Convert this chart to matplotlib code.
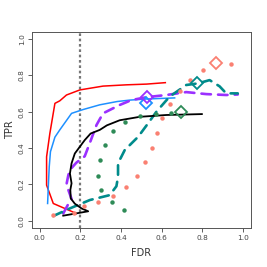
import matplotlib
matplotlib.use("Agg")
import matplotlib.pyplot as plt

# FDR / TPR curves
red_fdr = [0.18, 0.066, 0.033, 0.033, 0.049, 0.074, 0.098, 0.131, 0.197, 0.311, 0.426, 0.525, 0.618]
red_tpr = [0.040, 0.095, 0.196, 0.352, 0.480, 0.646, 0.660, 0.692, 0.720, 0.741, 0.748, 0.752, 0.760]

blue_fdr = [0.038, 0.042, 0.046, 0.052, 0.074, 0.098, 0.156, 0.213, 0.295, 0.380, 0.443, 0.525, 0.664]
blue_tpr = [0.095, 0.200, 0.297, 0.380, 0.460, 0.500, 0.591, 0.612, 0.638, 0.656, 0.664, 0.670, 0.676]

purple_fdr = [0.115, 0.139, 0.156, 0.140, 0.131, 0.140, 0.148, 0.180, 0.221, 0.250, 0.279, 0.311, 0.393, 0.451, 0.525, 0.623, 0.721, 0.820, 0.918, 0.975]
purple_tpr = [0.040, 0.090, 0.120, 0.170, 0.200, 0.250, 0.280, 0.320, 0.355, 0.440, 0.527, 0.591, 0.637, 0.664, 0.680, 0.692, 0.708, 0.697, 0.692, 0.695]

teal_fdr = [0.066, 0.148, 0.246, 0.344, 0.377, 0.385, 0.385, 0.418, 0.484, 0.533, 0.574, 0.639, 0.721, 0.779, 0.836, 0.885, 0.918, 0.975]
teal_tpr = [0.026, 0.068, 0.114, 0.141, 0.190, 0.242, 0.316, 0.389, 0.462, 0.536, 0.600, 0.683, 0.747, 0.756, 0.774, 0.740, 0.701, 0.701]

black_fdr = [0.115, 0.238, 0.205, 0.172, 0.152, 0.150, 0.156, 0.148, 0.156, 0.172, 0.221, 0.250, 0.295, 0.330, 0.393, 0.492, 0.623, 0.798]
black_tpr = [0.028, 0.052, 0.068, 0.094, 0.123, 0.170, 0.206, 0.260, 0.316, 0.370, 0.444, 0.480, 0.500, 0.525, 0.553, 0.572, 0.582, 0.587]

green_fdr = [0.415, 0.353, 0.300, 0.288, 0.298, 0.321, 0.361, 0.420, 0.495, 0.570, 0.648]
green_tpr = [0.059, 0.105, 0.167, 0.248, 0.334, 0.417, 0.492, 0.544, 0.574, 0.589, 0.594]

salmon_fdr = [0.066, 0.169, 0.218, 0.287, 0.361, 0.426, 0.480, 0.520, 0.554, 0.579, 0.603, 0.643, 0.689, 0.741, 0.803, 0.944]
salmon_tpr = [0.031, 0.042, 0.081, 0.105, 0.136, 0.183, 0.246, 0.321, 0.400, 0.483, 0.563, 0.640, 0.716, 0.774, 0.829, 0.862]

# open diamonds (fdr, tpr)
diamonds = {
    "dodgerblue": (0.521, 0.650),
    "#9b30ff": (0.528, 0.679),
    "#2e8b57": (0.697, 0.600),
    "#008b8b": (0.774, 0.756),
    "#fa8072": (0.866, 0.866),
}

ticks = [0.0, 0.2, 0.4, 0.6, 0.8, 1.0]
tick_labels = ["0.0", "0.2", "0.4", "0.6", "0.8", "1.0"]

fig = plt.figure(figsize=(2.67, 2.67), dpi=100)
ax = fig.add_axes([0.119, 0.146, 0.821, 0.735])

ax.axvline(0.2, color="#777777", lw=1.6, ls=(0, (1.2, 1.2)), zorder=1)

ax.plot(red_fdr, red_tpr, color="red", lw=1.1)
ax.plot(blue_fdr, blue_tpr, color="dodgerblue", lw=1.1)
ax.plot(purple_fdr, purple_tpr, color="#9b30ff", lw=1.9, ls=(0, (3.6, 2.7)), dash_capstyle="round")
ax.plot(teal_fdr, teal_tpr, color="#008b8b", lw=1.9, ls=(0, (3.6, 2.7)), dash_capstyle="round")
ax.plot(black_fdr, black_tpr, color="black", lw=1.3)
ax.plot(green_fdr, green_tpr, "o", color="#2e8b57", ms=3.2, mew=0)
ax.plot(salmon_fdr, salmon_tpr, "o", color="#fa8072", ms=3.2, mew=0)

for col, (x, y) in diamonds.items():
    ax.plot([x], [y], "D", mfc="none", mec=col, ms=6, mew=1.3)

ax.set_xlim(-0.04, 1.04)
ax.set_ylim(-0.04, 1.04)
ax.set_xticks(ticks)
ax.set_xticklabels(tick_labels)
ax.set_yticks(ticks)
ax.set_yticklabels(tick_labels, rotation=90, va="center")
ax.tick_params(length=3, width=0.6, colors="#444444", labelsize=5.3, pad=2)
for s in ax.spines.values():
    s.set_color("#555555")
    s.set_linewidth(0.7)

ax.set_xlabel("FDR", fontsize=7, color="#333333", labelpad=5)
ax.set_ylabel("TPR", fontsize=7, color="#333333", labelpad=3)

fig.savefig("out.png", dpi=100)
